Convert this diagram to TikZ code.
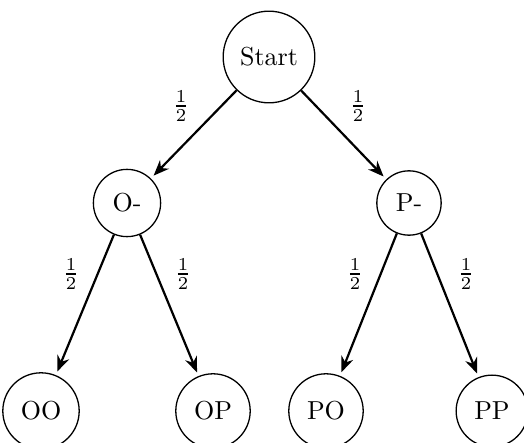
\documentclass[tikz,border=0pt]{standalone}
\usetikzlibrary{arrows.meta}
\begin{document}
\begin{tikzpicture}[x=0.3846pt, y=-0.3846pt,
  state/.style={circle, draw, line width=0.5pt, inner sep=4.5pt},
  arr/.style={-{Stealth[length=6pt,width=4.8pt]}, line width=0.85pt, shorten >=1.5pt},
  lbl/.style={inner sep=0pt}]
  \useasboundingbox (0,0) rectangle (524,443);
  \begin{scope}
    \clip (0,0) rectangle (524,443);
    % tree nodes
    \node[state] (start) at (269,57) {Start};
    \node[state] (om) at (127,203) {O-};
    \node[state] (pm) at (409,203) {P-};
    \node[state] (oo) at (41,411) {OO};
    \node[state] (op) at (213,411) {OP};
    \node[state] (po) at (326,411) {PO};
    \node[state] (pp) at (492,411) {PP};
    % branches
    \draw[arr] (start) -- (om);
    \draw[arr] (start) -- (pm);
    \draw[arr] (om) -- (oo);
    \draw[arr] (om) -- (op);
    \draw[arr] (pm) -- (po);
    \draw[arr] (pm) -- (pp);
    % branch probabilities
    \node[lbl] (l1) at (181,106) {$\frac{1}{2}$};
    \node[lbl] (l2) at (358,106) {$\frac{1}{2}$};
    \node[lbl] (l3) at (71,274) {$\frac{1}{2}$};
    \node[lbl] (l4) at (183,274) {$\frac{1}{2}$};
    \node[lbl] (l5) at (355,274) {$\frac{1}{2}$};
    \node[lbl] (l6) at (466,274) {$\frac{1}{2}$};
  \end{scope}
\end{tikzpicture}
\end{document}
